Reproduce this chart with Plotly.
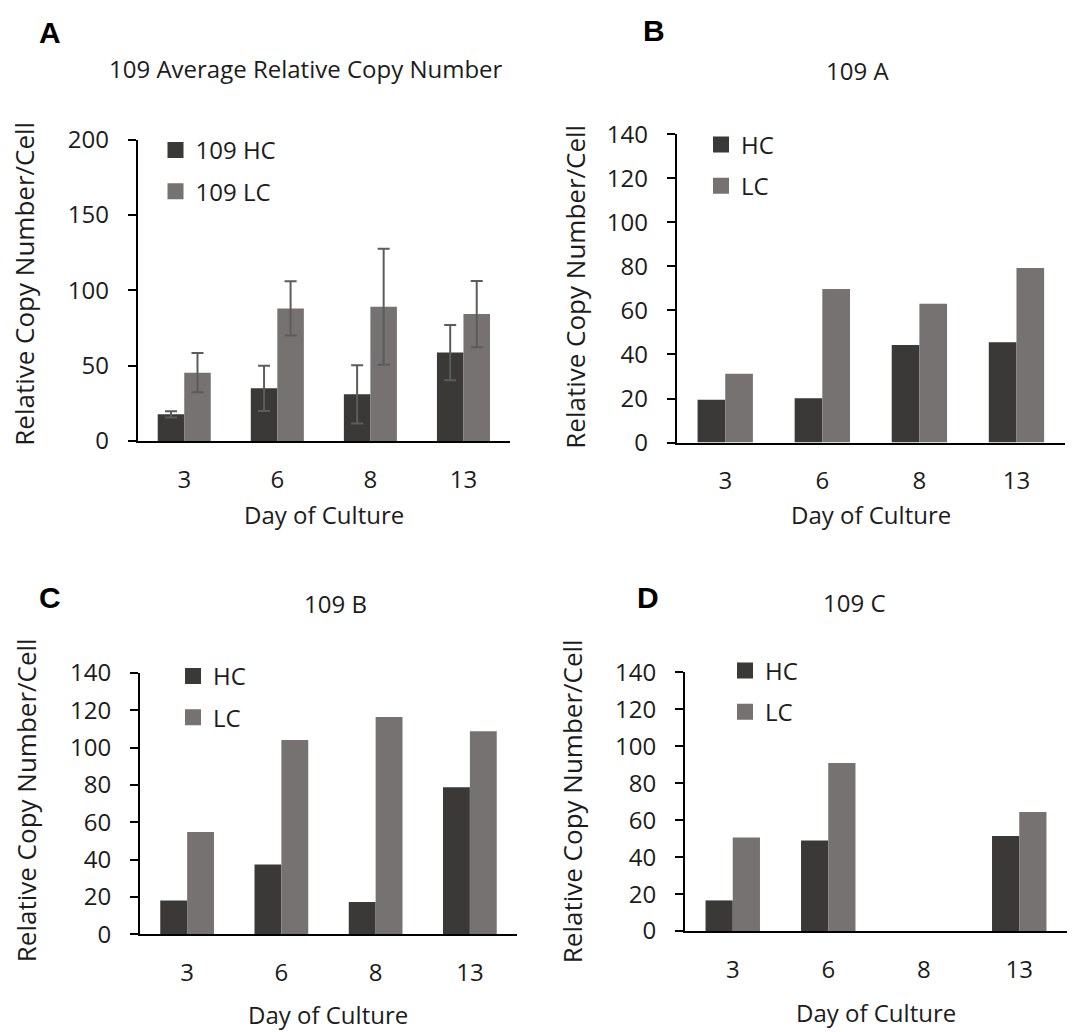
import plotly.graph_objects as go

W, H = 1073, 1032

# Day of culture (category axis)
days = ["3", "6", "8", "13"]

# Panel A: average relative copy number (mean ± SD)
avg_hc = [17.6, 34.9, 30.9, 58.6]
avg_lc = [45.3, 87.9, 89.1, 84.2]
avg_hc_err = [2.0, 15.0, 19.3, 18.3]
avg_lc_err = [13.0, 18.0, 38.5, 22.0]

# Panel B: 109 A
a_hc = [19.4, 20.1, 44.3, 45.5]
a_lc = [31.2, 69.7, 63.0, 79.2]

# Panel C: 109 B
b_hc = [18.2, 37.5, 17.4, 78.8]
b_lc = [54.9, 104.1, 116.4, 108.8]

# Panel D: 109 C (no day-8 sample)
c_hc = [16.6, 49.0, None, 51.4]
c_lc = [50.6, 91.0, None, 64.5]

HC_COLOR = "#3b3937"
LC_COLOR = "#767271"
ERR_COLOR = "#5c5c5c"
TEXT = "#1c1c1c"
FONT = "Open Sans"

# vertical placement of the layout grid on the page
TOP_OFFSET, PAPER_H = 16, 1000


def px_x(x):
    return x / W


def px_y(y):
    return 1 - (y - TOP_OFFSET) / PAPER_H


# pixel boxes for each panel: (left, right, bottom, top) of the plot area
panels = [
    dict(key="", box=(137.7, 510, 439.3, 137.7), ymax=200, dtick=50,
         hc=avg_hc, lc=avg_lc, hc_err=avg_hc_err, lc_err=avg_lc_err,
         names=("109 HC", "109 LC"), legend="legend",
         title="109 Average Relative Copy Number", title_xy=(306, 67),
         letter="A", letter_xy=(50, 31), ytitle_xy=(24, 282), xtitle_xy=(324, 513),
         leg_xy=(175.5, 150)),
    dict(key="2", box=(676.7, 1065, 441, 132.3), ymax=140, dtick=20,
         hc=a_hc, lc=a_lc, hc_err=None, lc_err=None,
         names=("HC", "LC"), legend="legend2",
         title="109 A", title_xy=(857.5, 69),
         letter="B", letter_xy=(654, 29), ytitle_xy=(575, 285), xtitle_xy=(871, 513),
         leg_xy=(721, 144.5)),
    dict(key="3", box=(140, 517, 933.3, 671.7), ymax=140, dtick=20,
         hc=b_hc, lc=b_lc, hc_err=None, lc_err=None,
         names=("HC", "LC"), legend="legend3",
         title="109 B", title_xy=(335, 602),
         letter="C", letter_xy=(50, 596), ytitle_xy=(26, 799), xtitle_xy=(328, 1013),
         leg_xy=(193, 676.5)),
    dict(key="4", box=(685, 1067, 930, 671), ymax=140, dtick=20,
         hc=c_hc, lc=c_lc, hc_err=None, lc_err=None,
         names=("HC", "LC"), legend="legend4",
         title="109 C", title_xy=(854, 601),
         letter="D", letter_xy=(648, 596), ytitle_xy=(572, 800), xtitle_xy=(876, 1011),
         leg_xy=(745, 671)),
]

fig = go.Figure()
layout = dict(
    width=W, height=H,
    margin=dict(l=0, r=0, t=0, b=0),
    paper_bgcolor="white", plot_bgcolor="white",
    barmode="group", bargap=0.43, bargroupgap=0,
    font=dict(family=FONT, size=24, color=TEXT),
    showlegend=True,
    annotations=[],
)

for p in panels:
    k = p["key"]
    xa, ya = "x" + k, "y" + k
    left, right, bottom, top = p["box"]

    for vals, err, name, color in (
        (p["hc"], p["hc_err"], p["names"][0], HC_COLOR),
        (p["lc"], p["lc_err"], p["names"][1], LC_COLOR),
    ):
        bar = dict(
            x=days, y=vals, xaxis=xa, yaxis=ya, name=name,
            marker=dict(color=color, line=dict(width=0)),
            showlegend=False, hoverinfo="x+y",
        )
        if err is not None:
            bar["error_y"] = dict(type="data", array=err, visible=True,
                                  color=ERR_COLOR, thickness=2, width=6)
        fig.add_trace(go.Bar(**bar))
        # legend entry with a larger square swatch
        fig.add_trace(go.Scatter(
            x=[None], y=[None], xaxis=xa, yaxis=ya, mode="markers", name=name,
            marker=dict(symbol="square", size=16, color=color),
            legend=p["legend"], legendgroup=p["legend"] + name, showlegend=True,
        ))

    layout["xaxis" + k] = dict(
        domain=[px_x(left), px_x(right)], anchor=ya,
        type="category", categoryorder="array", categoryarray=days,
        range=[-0.5, 3.5], showline=True, linecolor="black", linewidth=2,
        ticks="", showgrid=False, zeroline=False,
        tickfont=dict(size=24, color=TEXT, family=FONT), ticklabelstandoff=16,
    )
    layout["yaxis" + k] = dict(
        domain=[px_y(bottom), px_y(top)], anchor=xa,
        range=[0, p["ymax"]], dtick=p["dtick"], tick0=0,
        showline=True, linecolor="black", linewidth=2,
        ticks="outside", ticklen=8, tickwidth=2, tickcolor="black",
        showgrid=False, zeroline=False,
        tickfont=dict(size=24, color=TEXT, family=FONT), ticklabelstandoff=14,
    )

    lx, ly = p["leg_xy"]
    layout[p["legend"]] = dict(
        x=px_x(lx - 20), y=px_y(ly - 24), xanchor="left", yanchor="top",
        bgcolor="rgba(0,0,0,0)", borderwidth=0,
        font=dict(size=24, color=TEXT, family=FONT),
        tracegroupgap=7, itemsizing="trace", orientation="v",
    )

    tx, ty = p["title_xy"]
    layout["annotations"].append(dict(
        text=p["title"], x=px_x(tx), y=px_y(ty), xref="paper", yref="paper",
        xanchor="center", yanchor="middle", showarrow=False,
        font=dict(size=24, color=TEXT, family=FONT)))
    cx, cy = p["letter_xy"]
    layout["annotations"].append(dict(
        text="<b>" + p["letter"] + "</b>", x=px_x(cx), y=px_y(cy),
        xref="paper", yref="paper", xanchor="center", yanchor="middle",
        showarrow=False, font=dict(size=30, color="black", family="Liberation Sans")))
    yx, yy = p["ytitle_xy"]
    layout["annotations"].append(dict(
        text="Relative Copy Number/Cell", x=px_x(yx), y=px_y(yy),
        xref="paper", yref="paper", xanchor="center", yanchor="middle",
        textangle=-90, showarrow=False,
        font=dict(size=26, color=TEXT, family=FONT)))
    xx, xy = p["xtitle_xy"]
    layout["annotations"].append(dict(
        text="Day of Culture", x=px_x(xx), y=px_y(xy),
        xref="paper", yref="paper", xanchor="center", yanchor="middle",
        showarrow=False, font=dict(size=24, color=TEXT, family=FONT)))

fig.update_layout(**layout)
fig.write_html("out.html")
